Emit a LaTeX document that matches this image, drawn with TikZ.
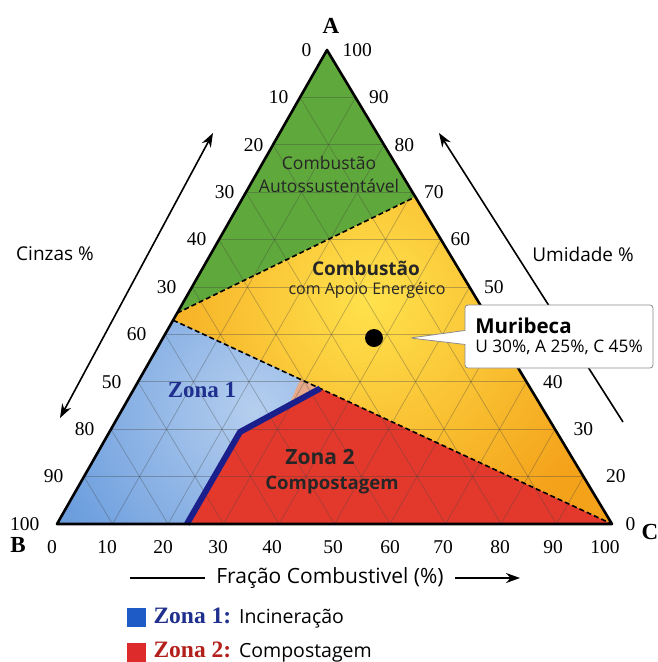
\documentclass[tikz,border=0pt]{standalone}
\usepackage{fontspec}
\setmainfont{Liberation Serif}
\setsansfont{Open Sans}
\usetikzlibrary{calc,arrows.meta,shapes.callouts}
\definecolor{zgreen}{HTML}{5FA83B}
\definecolor{zyellow}{HTML}{FFE24D}
\definecolor{zorange}{HTML}{F4A21A}
\definecolor{zblue}{HTML}{6C9EDE}
\definecolor{zred}{HTML}{E3392D}
\definecolor{zpeach}{HTML}{E6A98A}
\definecolor{zline}{HTML}{1A1F8C}
\definecolor{zdark}{HTML}{1F2F8E}
\definecolor{kblue}{HTML}{1E5BC6}
\definecolor{kred}{HTML}{DD2A2A}
\definecolor{kdred}{HTML}{B3201C}

\begin{document}
\begin{tikzpicture}[x=1pt,y=-1pt,>={Stealth[length=14pt,width=10pt]},
  num/.style={font=\fontsize{19.5}{21}\selectfont},
  vert/.style={font=\bfseries\fontsize{23}{25}\selectfont},
  lbl/.style={font=\sffamily\fontsize{19}{22}\selectfont},
  gridline/.style={black!75,opacity=.35,line width=.7pt},
  border/.style={line width=1.6pt,dash pattern=on 5pt off 3pt},
  axarrow/.style={line width=1.6pt}]
\useasboundingbox[fill=white] (0,0) rectangle (657,662);

\coordinate (A) at (327,50);
\coordinate (B) at (57,524);
\coordinate (C) at (612,524);
\coordinate (L1) at ($(A)!.555!(B)$);
\coordinate (L2) at ($(A)!.57!(B)$);
\coordinate (R1) at ($(A)!.31!(C)$);
\coordinate (Z0) at ($(B)!.234!(C)$);
\coordinate (Z1) at (240,432);
\coordinate (Z2) at ($(L2)!.335!(C)$);
\coordinate (P1) at (289,405);
\coordinate (P2) at ($(L2)!.29!(C)$);

% zones
\fill[zgreen] (A) -- (R1) -- (L1) -- cycle;
\begin{scope}
  \clip (L1) -- (R1) -- (C) -- (L2) -- cycle;
  \fill[zorange] (A) -- (B) -- (C) -- cycle;
  \shade[inner color=zyellow,outer color=zorange] (370,300) circle (260);
\end{scope}
\begin{scope}
  \clip (L2) -- (Z2) -- (Z1) -- (Z0) -- (B) -- cycle;
  \fill[zblue] (A) -- (B) -- (C) -- cycle;
  \shade[inner color=zblue!50!white,outer color=zblue] (255,410) circle (210);
\end{scope}
\fill[zred] (Z0) -- (Z1) -- (Z2) -- (C) -- cycle;
\fill[zpeach] (P1) -- (P2) -- (Z2) -- cycle;

% grid
\foreach \i in {1,...,9}{
  \draw[gridline] ($(A)!\i/10!(B)$) -- ($(A)!\i/10!(C)$);
  \draw[gridline] ($(B)!\i/10!(C)$) -- ($(A)!\i/10!(C)$);
  \draw[gridline] ($(C)!\i/10!(B)$) -- ($(A)!\i/10!(B)$);
}

\draw[border] (L1) -- (R1);
\draw[border] (L2) -- (C);
\draw[zline,line width=6pt,line join=round] (Z0) -- (Z1) -- (Z2);
\draw[line width=2.6pt,line join=round] (A) -- (B) -- (C) -- cycle;

% scales
\foreach \k/\t/\d in {0/0/12,1/10/8,2/20/6,3/30/8,4/40/9,5/30/12,6/60/15,7/50/13,8/80/13,9/90/17,10/100/14}
  \node[num,anchor=east,xshift=-\d pt] (l\k) at ($(A)!\k/10!(B)$) {\t};
\foreach \k/\t/\d in {0/100/12,1/90/10,2/80/7,3/70/8,4/60/6,5/50/11,7/40/13,8/30/15,9/20/19,10/0/10}
  \node[num,anchor=west,xshift=\d pt] (r\k) at ($(A)!\k/10!(C)$) {\t};
\foreach \t/\x in {0/52,10/107,20/163,30/218,40/272,50/333,60/390,70/443,80/500,90/553,100/605}
  \node[num] (b\t) at (\x,547) {\t};

\node[vert] (va) at (331,26) {A};
\node[vert] (vb) at (18,545) {B};
\node[vert] (vc) at (650,532) {C};

% side arrows
\node[lbl] (cinzas) at (55,254) {Cinzas \%};
\node[lbl] (umid) at (583,254) {Umidade \%};
\coordinate (ca1) at (60,418);
\coordinate (ca2) at (213,133);
\coordinate (ua1) at (623,422);
\coordinate (ua2) at (439,133);
\draw[axarrow,<->] (ca1) -- (ca2);
\draw[axarrow,->] (ua1) -- (ua2);

% zone labels
\node[font=\sffamily\fontsize{17.5}{23}\selectfont,align=center,text=black!85] (auto) at (329,174) {Combustão\\Autossustentável};
\node[font=\sffamily\bfseries\fontsize{19}{22}\selectfont,text=black!85] (apoio) at (366,268) {Combustão};
\node[font=\sffamily\fontsize{16}{19}\selectfont,text=black!85] (apoio2) at (367,290) {com Apoio Energéico};
\node[font=\bfseries\fontsize{23}{25}\selectfont,text=zdark] (zona1) at (202,390) {Zona 1};
\node[font=\sffamily\bfseries\fontsize{21}{24}\selectfont,text=black!85] (zona2) at (320,457) {Zona 2};
\node[font=\sffamily\bfseries\fontsize{18.6}{22}\selectfont,text=black!85] (compost) at (332,485) {Compostagem};

% Muribeca
\node[circle,fill=black,minimum size=18pt,inner sep=0pt] (dot) at (374,338) {};
\node[rectangle callout,draw=black!45,fill=white,line width=.8pt,rounded corners=3pt,
  minimum width=188pt,minimum height=63pt,align=left,callout pointer width=14pt,
  callout absolute pointer={($(dot.east)+(27,0)$)}] (mur) at (559,336.5)
  {{\sffamily\bfseries\fontsize{20.5}{22}\selectfont Muribeca}\\[5pt]
   {\sffamily\fontsize{17.3}{18}\selectfont U 30\%, A 25\%, C 45\%}};

% bottom axis
\node[lbl,font=\sffamily\fontsize{21}{22}\selectfont] (frac) at (330,578) {Fração Combustivel (\%)};
\coordinate (f1) at (130,578);
\coordinate (f2) at (205,578);
\coordinate (f3) at (455,578);
\coordinate (f4) at (520,578);
\draw[axarrow] (f1) -- (f2);
\draw[axarrow,->] (f3) -- (f4);

% legend
\node[fill=kblue,minimum size=19pt,inner sep=0pt] (k1) at (136.5,617.5) {};
\node[anchor=west,font=\fontsize{23.5}{25}\selectfont] (t1) at (150,618)
  {{\bfseries\color{zdark}Zona 1:} {\sffamily\fontsize{19.5}{22}\selectfont Incineração}};
\node[fill=kred,minimum size=19pt,inner sep=0pt] (k2) at (136.5,652.5) {};
\node[anchor=west,font=\fontsize{23.5}{25}\selectfont] (t2) at (150,652)
  {{\bfseries\color{kdred}Zona 2:} {\sffamily\fontsize{19.5}{22}\selectfont Compostagem}};
\end{tikzpicture}
\end{document}
